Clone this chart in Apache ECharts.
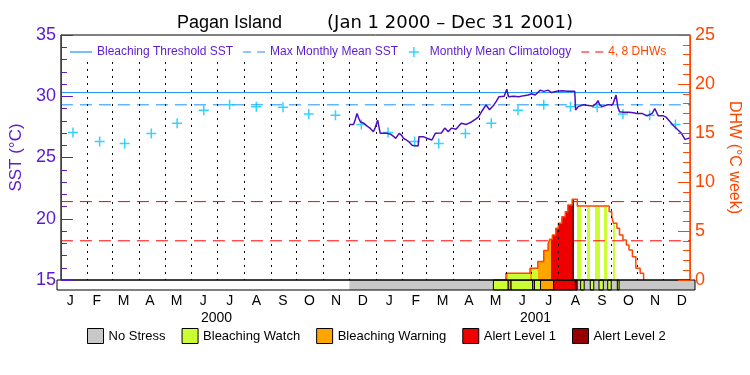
<!DOCTYPE html>
<html><head><meta charset="utf-8">
<script src="https://cdn.jsdelivr.net/npm/echarts@6/dist/echarts.min.js"></script>
<style>html,body{margin:0;padding:0;background:#fff}#c{width:750px;height:375px}</style>
</head><body><div id="c"></div>
<script>
// ---------- data ----------
const monthLabels = ['J','F','M','A','M','J','J','A','S','O','N','D','J','F','M','A','M','J','J','A','S','O','N','D'];
const yearLabels = ['2000','2001'];
const climYears = [2000, 2001];
const climValues = [27.05, 26.3, 26.15, 26.95, 27.8, 28.85, 29.3, 29.15, 29.1, 28.55, 28.45, 27.7];
const thresholdSST = 30.3;
const mmmSST = 29.3;
const dhwLevels = [4, 8];

const sstDates = ['2000-12-01','2000-12-06','2000-12-08','2000-12-10','2000-12-12','2000-12-14','2000-12-18','2000-12-21','2000-12-25','2000-12-29','2000-12-31',
'2001-01-03','2001-01-05','2001-01-06','2001-01-14','2001-01-18','2001-01-21','2001-01-24','2001-01-28','2001-01-31',
'2001-02-02','2001-02-05','2001-02-08','2001-02-12','2001-02-15','2001-02-19','2001-02-20','2001-02-25',
'2001-03-02','2001-03-07','2001-03-11','2001-03-18','2001-03-22','2001-03-26','2001-03-30',
'2001-04-04','2001-04-10','2001-04-16','2001-04-22','2001-04-26','2001-04-30',
'2001-05-05','2001-05-09','2001-05-13','2001-05-18','2001-05-21','2001-05-24','2001-05-30',
'2001-06-02','2001-06-04','2001-06-10','2001-06-16','2001-06-22','2001-06-27',
'2001-07-01','2001-07-05','2001-07-11','2001-07-15','2001-07-20','2001-07-24','2001-07-30',
'2001-08-05','2001-08-12','2001-08-20','2001-08-21','2001-08-24','2001-08-30',
'2001-09-05','2001-09-10','2001-09-14','2001-09-16','2001-09-18','2001-09-21','2001-09-27',
'2001-10-03','2001-10-07','2001-10-09','2001-10-11','2001-10-16','2001-10-22','2001-10-27','2001-10-31',
'2001-11-06','2001-11-12','2001-11-18','2001-11-21','2001-11-25',
'2001-12-01','2001-12-04','2001-12-07','2001-12-12','2001-12-18','2001-12-22','2001-12-26','2001-12-30','2001-12-31'];
const sstValues = [27.7,27.7,28.1,28.6,28.2,27.9,27.8,27.6,27.4,27.1,27.4,
28.05,27.9,26.97,26.97,26.9,26.75,26.56,26.97,26.8,
26.56,26.45,26.3,26.0,25.95,25.94,26.7,26.7,
26.55,26.43,26.97,27.0,27.4,27.1,27.4,
27.3,27.8,27.7,27.9,28.1,28.3,
28.88,29.29,28.9,29.29,29.6,29.96,30.0,
30.57,29.96,30.0,29.96,30.05,30.1,
30.2,30.1,30.5,30.4,30.5,30.3,30.4,
30.45,30.4,30.4,28.88,29.15,29.3,
29.25,29.2,29.42,29.64,29.3,29.15,29.3,
29.3,30.1,29.15,28.74,28.7,28.7,28.65,28.6,
28.6,28.4,28.6,29.0,28.4,
28.4,28.3,28.06,27.65,27.24,26.97,26.48,26.56,26.6];

const dhwDates = ['2001-06-01','2001-06-01','2001-06-29','2001-07-08','2001-07-15','2001-07-20','2001-07-22','2001-07-25','2001-07-29','2001-08-01','2001-08-05','2001-08-09','2001-08-12','2001-08-17','2001-08-23','2001-09-29','2001-10-02','2001-10-04','2001-10-08','2001-10-11','2001-10-15','2001-10-19','2001-10-22','2001-10-26','2001-10-30','2001-11-04','2001-11-08'];
const dhwValues = [0,0.7,1.2,1.9,3.0,3.7,4.15,4.6,5.27,5.8,6.46,6.97,7.65,8.23,7.55,6.97,6.46,5.78,5.27,4.6,4.08,3.57,3.06,2.38,1.19,0.68,0];

const stressNames = ['No Stress','Bleaching Watch','Bleaching Warning','Alert Level 1','Alert Level 2'];
const stressColors = ['#c8c8c8','#ccff33','#ffa500','#ee0000','#960000'];
const stressStart = ['2000-12-01','2001-05-15','2001-06-01','2001-06-04','2001-06-29','2001-07-01','2001-07-08','2001-07-23','2001-08-17','2001-08-19','2001-08-23','2001-09-03','2001-09-13','2001-09-23','2001-10-04'];
const stressEnd   = ['2001-05-15','2001-06-01','2001-06-04','2001-06-29','2001-07-01','2001-07-08','2001-07-23','2001-08-17','2001-08-19','2002-01-01','2001-08-27','2001-09-07','2001-09-18','2001-09-27','2001-10-06'];
const stressLevel = [0,1,2,1,2,1,2,3,4,0,1,1,1,1,1];

// ---------- helpers ----------
function t(s){const p=s.split('-').map(Number);return new Date(p[0],p[1]-1,p[2]).getTime();}
const tMin = t('2000-01-01'), tMax = t('2002-01-01');
const monthStarts = [];
for (let y=2000;y<=2001;y++) for (let m=1;m<=12;m++) { if (y===2000&&m===1) continue; monthStarts.push(t(y+'-'+m+'-01')); }
const gridLineTop = 32.8; // dotted month lines stop below the legend row

const PURPLE = '#5a1ad0', ORANGE = '#ff4500', BLUE = '#1e90ff', CYAN = '#00c8ff', RED = '#ff0000';
const FONT = 'Liberation Sans';
const ICON_SOLID = 'path://M0,0H22V1.2H0Z';
const ICON_DASH = 'path://M0,0H8V1.2H0ZM14,0H22V1.2H14Z';

const sstData = sstDates.map((d,i)=>[t(d), sstValues[i]]);
const dhwData = dhwDates.map((d,i)=>[t(d), dhwValues[i]]);
const climData = [];
climYears.forEach(y => climValues.forEach((v,m)=>climData.push([t(y+'-'+(m+1)+'-15'), v])));

const pieces = [];
stressLevel.forEach((lv,i)=>{ if (lv>0) pieces.push({gte:t(stressStart[i]), lt:t(stressEnd[i]), color:stressColors[lv]}); });

function renderSeg(params, api){
  const s = api.coord([api.value(0), 0]);
  const e = api.coord([api.value(1), 1]);
  const lv = api.value(2);
  return {type:'rect', shape:{x:s[0], y:e[1], width:e[0]-s[0], height:s[1]-e[1]},
    style:{fill: api.visual('color'), stroke: lv>0 ? '#000' : null, lineWidth: 1}};
}
const stressSeries = stressNames.map((name, lv) => ({
  name, type:'custom', xAxisIndex:1, yAxisIndex:2, z:1,
  itemStyle:{color: stressColors[lv]},
  encode:{x:[0,1]},
  renderItem: renderSeg,
  data: stressLevel.map((l,i)=> l===lv ? [t(stressStart[i]), t(stressEnd[i]), l] : null).filter(Boolean)
}));

const chart = echarts.init(document.getElementById('c'));
chart.setOption({
  animation:false,
  backgroundColor:'#fff',
  textStyle:{fontFamily:FONT},
  title:{text:'{a|Pagan Island}         {b|(Jan 1 2000 – Dec 31 2001)}', left:'center', top:9,
    textStyle:{fontFamily:FONT, fontSize:18, fontWeight:'normal', color:'#000',
      rich:{a:{fontFamily:FONT, fontSize:18, color:'#000'}, b:{fontFamily:'DejaVu Sans', fontSize:18, color:'#000'}}}},
  legend:[{
    left:70, top:46, padding:0, itemWidth:22, itemHeight:10, itemGap:10,
    textStyle:{fontFamily:FONT, fontSize:12, color:PURPLE},
    data:[
      {name:'Bleaching Threshold SST', icon:ICON_SOLID, itemStyle:{color:BLUE, borderWidth:0}, lineStyle:{width:0}},
      {name:'Max Monthly Mean SST', icon:ICON_DASH, itemStyle:{color:BLUE, borderWidth:0}, lineStyle:{width:0}},
      {name:'Monthly Mean Climatology', itemStyle:{color:CYAN, borderColor:CYAN, borderWidth:1.5}},
      {name:'4, 8 DHWs', icon:ICON_DASH, itemStyle:{color:RED, borderWidth:0}, lineStyle:{width:0}, textStyle:{color:ORANGE}}
    ]
  },{
    left:87, top:328, padding:0, itemWidth:16, itemHeight:15, itemGap:16, icon:'rect',
    itemStyle:{borderColor:'#000', borderWidth:1},
    textStyle:{fontFamily:FONT, fontSize:13, color:'#000'},
    data: stressNames
  }],
  grid:[
    {left:57, right:55, top:35, height:245, show:true, borderColor:'#000', borderWidth:1, z:10},
    {left:57, right:55, top:280, height:10, show:true, borderColor:'#000', borderWidth:1, z:10}
  ],
  xAxis:[
    {type:'time', gridIndex:0, min:tMin, max:tMax, show:false},
    {type:'time', gridIndex:1, min:tMin, max:tMax, show:false},
    {type:'category', gridIndex:1, position:'bottom', data:monthLabels, boundaryGap:true,
      axisLine:{show:false}, axisTick:{show:false}, splitLine:{show:false},
      axisLabel:{fontFamily:FONT, fontSize:14, color:'#000', margin:4, interval:0}},
    {type:'category', gridIndex:1, position:'bottom', offset:17, data:yearLabels, boundaryGap:true,
      axisLine:{show:false}, axisTick:{show:false}, splitLine:{show:false},
      axisLabel:{fontFamily:FONT, fontSize:14, color:'#000', margin:4, interval:0}}
  ],
  yAxis:[
    {type:'value', gridIndex:0, position:'left', min:15, max:35, interval:5, z:12,
      name:'SST (°C)', nameLocation:'middle', nameGap:29, nameRotate:90,
      nameTextStyle:{fontFamily:FONT, fontSize:17, color:PURPLE},
      axisLine:{show:true, lineStyle:{color:PURPLE, width:1}},
      axisTick:{show:true, inside:true, length:12, lineStyle:{color:PURPLE}},
      minorTick:{show:true, splitNumber:5, length:6, lineStyle:{color:PURPLE}},
      splitLine:{show:false},
      axisLabel:{fontFamily:FONT, fontSize:18, color:PURPLE, margin:5}},
    {type:'value', gridIndex:0, position:'right', min:0, max:25, interval:5, z:12,
      name:'DHW (°C week)', nameLocation:'middle', nameGap:25, nameRotate:-90,
      nameTextStyle:{fontFamily:FONT, fontSize:16, color:ORANGE},
      axisLine:{show:true, lineStyle:{color:ORANGE, width:1}},
      axisTick:{show:true, inside:true, length:12, lineStyle:{color:ORANGE}},
      minorTick:{show:true, splitNumber:5, length:7, lineStyle:{color:ORANGE}},
      splitLine:{show:false},
      axisLabel:{fontFamily:FONT, fontSize:18, color:ORANGE, margin:5}},
    {type:'value', gridIndex:1, min:0, max:1, show:false}
  ],
  visualMap:{type:'piecewise', show:false, seriesIndex:6, dimension:0, pieces:pieces,
    outOfRange:{color:'rgba(255,255,255,0)'}},
  series:[
    {name:'Bleaching Threshold SST', type:'line', xAxisIndex:0, yAxisIndex:0, symbol:'none', silent:true,
      color:BLUE, lineStyle:{color:BLUE, width:1}, data:[[tMin,thresholdSST],[tMax,thresholdSST]], z:3},
    {name:'Max Monthly Mean SST', type:'line', xAxisIndex:0, yAxisIndex:0, symbol:'none', silent:true,
      color:BLUE, lineStyle:{color:BLUE, width:1, type:[12,7]}, data:[[tMin,mmmSST],[tMax,mmmSST]], z:3},
    {name:'Monthly Mean Climatology', type:'scatter', xAxisIndex:0, yAxisIndex:0, silent:true,
      symbol:'path://M5,0L5,10M0,5L10,5', symbolSize:10,
      itemStyle:{color:CYAN, borderColor:CYAN, borderWidth:1.5}, data:climData, z:4,
      markLine:{silent:true, symbol:['none','none'], label:{show:false},
        lineStyle:{color:'#000', type:[2,5], width:1}, emphasis:{disabled:true},
        data: monthStarts.map(v=>[{coord:[v, gridLineTop]},{coord:[v, 15]}])}},
    {name:'4, 8 DHWs', type:'line', xAxisIndex:0, yAxisIndex:1, symbol:'none', silent:true,
      color:RED, lineStyle:{color:RED, width:1, type:[12,7]}, data:[[tMin,dhwLevels[0]],[tMax,dhwLevels[0]]], z:3},
    {name:'4, 8 DHWs', type:'line', xAxisIndex:0, yAxisIndex:1, symbol:'none', silent:true,
      color:RED, lineStyle:{color:RED, width:1, type:[12,7]}, data:[[tMin,dhwLevels[1]],[tMax,dhwLevels[1]]], z:3},
    {name:'SST', type:'line', xAxisIndex:0, yAxisIndex:0, symbol:'none', silent:true,
      lineStyle:{color:'#4b0fc0', width:1.5}, data:sstData, z:5},
    {name:'DHW fill', type:'line', xAxisIndex:0, yAxisIndex:1, symbol:'none', silent:true, step:'end',
      lineStyle:{width:0}, areaStyle:{opacity:1}, data:dhwData, z:2},
    {name:'DHW', type:'line', xAxisIndex:0, yAxisIndex:1, symbol:'none', silent:true, step:'end',
      lineStyle:{color:ORANGE, width:1.5}, data:dhwData, z:3}
  ].concat(stressSeries)
});
</script></body></html>
